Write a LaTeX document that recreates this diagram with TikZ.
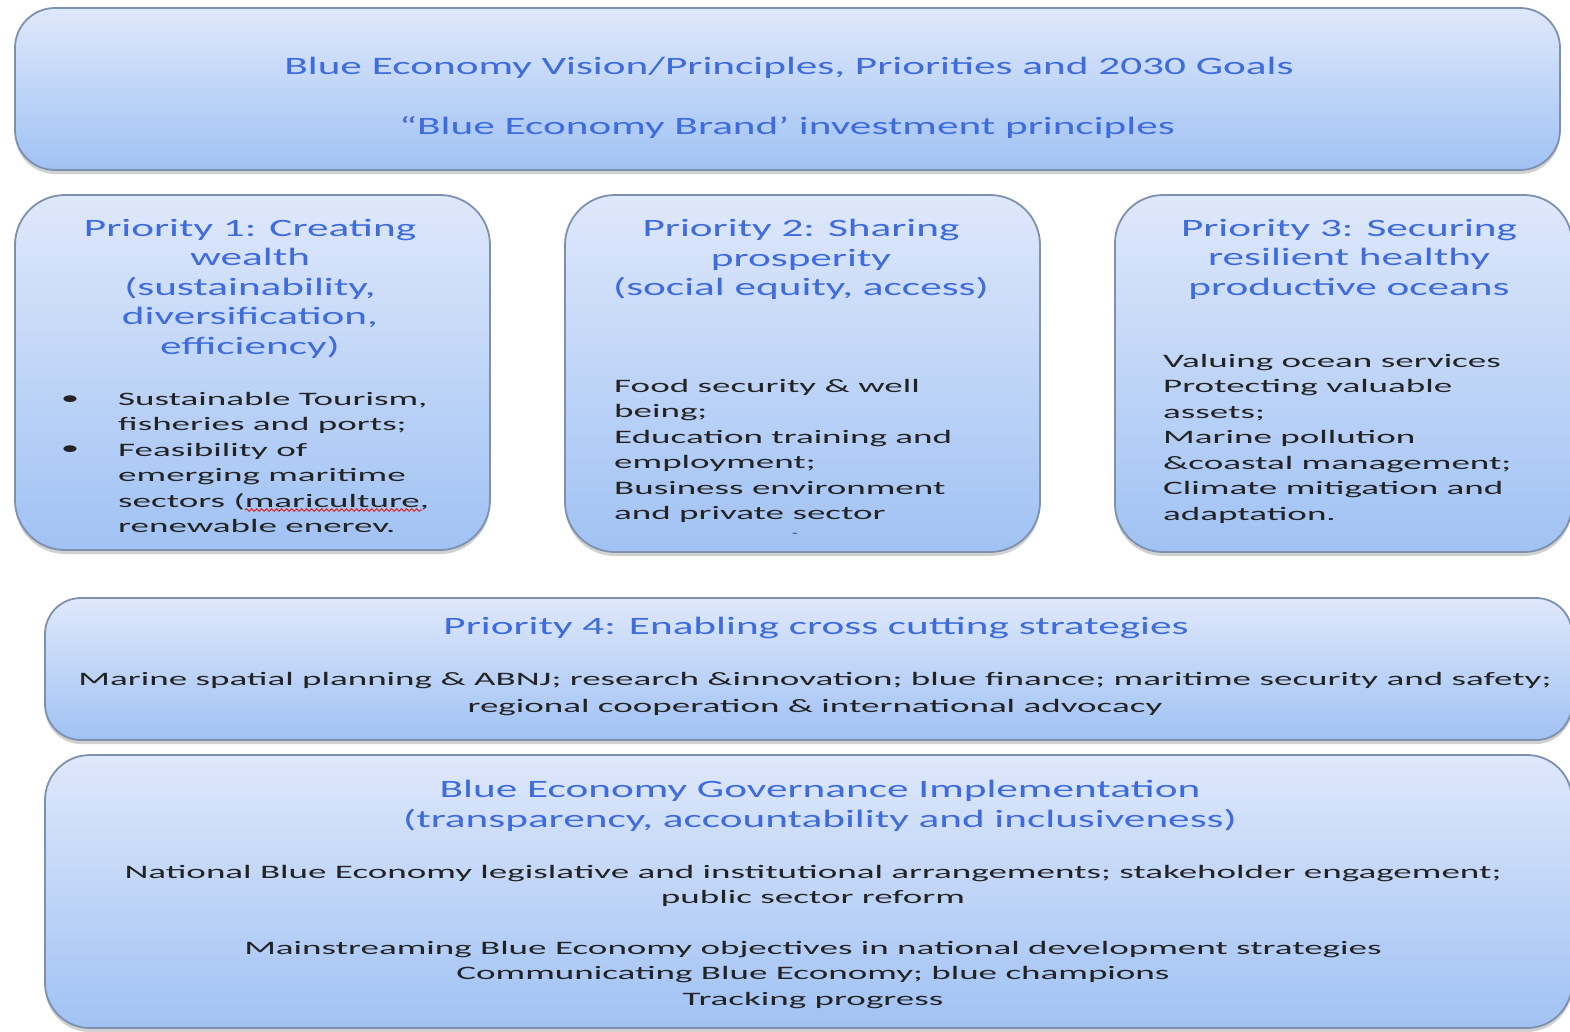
\documentclass[tikz,border=0pt]{standalone}
\usepackage{fontspec}
\usetikzlibrary{shadows,decorations.pathmorphing}
\newfontfamily\hfont[FakeStretch=1.73]{Carlito}
\newfontfamily\bfont[FakeStretch=1.95]{Carlito}
\definecolor{boxtop}{RGB}{223,232,251}
\definecolor{boxbot}{RGB}{160,194,244}
\definecolor{boxline}{RGB}{125,145,175}
\definecolor{headblue}{RGB}{62,108,222}
\definecolor{bodyblack}{RGB}{35,35,35}
\definecolor{wavyred}{RGB}{215,40,40}
\tikzset{
  box/.style={draw=boxline, line width=1.8pt, rounded corners=#1, top color=boxtop, bottom color=boxbot,
    drop shadow={shadow xshift=0pt, shadow yshift=-4pt, fill=black!40, opacity=0.45}, inner sep=0pt},
  head/.style={font=\hfont\fontsize{25}{29.5}\selectfont, text=headblue, align=center, inner sep=0pt},
  body/.style={font=\bfont\fontsize{19}{25.5}\selectfont, text=bodyblack, align=left, inner sep=0pt},
  bodyc/.style={body, align=center},
}
\begin{document}
\begin{tikzpicture}[x=1pt,y=-1pt]
\useasboundingbox (0,0) rectangle (1570,1031);
\clip (0,0) rectangle (1570,1031);
% boxes
\node[box=40pt, minimum width=1545pt, minimum height=162pt] (topbox) at (787.5,89) {};
\node[box=50pt, minimum width=475pt, minimum height=355pt] (p1box) at (252.5,372.5) {};
\node[box=50pt, minimum width=475pt, minimum height=357pt] (p2box) at (802.5,373.5) {};
\node[box=48pt, minimum width=457pt, minimum height=357pt] (p3box) at (1343.5,373.5) {};
\node[box=36pt, minimum width=1527pt, minimum height=142pt] (p4box) at (808.5,669) {};
\node[box=45pt, minimum width=1527pt, minimum height=273pt] (govbox) at (808.5,891.5) {};
% top texts
\node[head, anchor=base] (t1) at (789,74) {Blue Economy Vision/Principles, Priorities and 2030 Goals};
\node[head, anchor=base] (t2) at (787,134) {“Blue Economy Brand’ investment principles};
% priority 1
\node[head, anchor=north] (p1h) at (250,219) {Priority 1: Creating\\wealth\\(sustainability,\\diversification,\\efficiency)};
\node[body] (b1) at (70,400) {\textbullet};
\node[body] (b2) at (70,450) {\textbullet};
\node[body, anchor=north west] (p1t) at (118,392) {Sustainable Tourism,\\fisheries and ports;\\Feasibility of\\emerging maritime\\sectors (mariculture,\\renewable enerev.};
\coordinate (w1) at (245,510);
\coordinate (w2) at (422,510);
\draw[wavyred, line width=1pt, decorate, decoration={snake, amplitude=1.3pt, segment length=5pt}] (w1) -- (w2);
% priority 2
\node[head, anchor=north] (p2h) at (801,219) {Priority 2: Sharing\\prosperity\\(social equity, access)};
\node[body, anchor=north west] (p2t) at (614,379) {Food security \& well\\being;\\Education training and\\employment;\\Business environment\\and private sector};
\node[body, font=\bfont\fontsize{10}{10}\selectfont] (p2d) at (795,535) {-};
% priority 3
\node[head, anchor=north] (p3h) at (1349,219) {Priority 3: Securing\\resilient healthy\\productive oceans};
\node[body, anchor=north west] (p3t) at (1163,354) {Valuing ocean services\\Protecting valuable\\assets;\\Marine pollution\\\&coastal management;\\Climate mitigation and\\adaptation.};
% priority 4
\node[head, anchor=base] (p4h) at (816,634) {Priority 4: Enabling cross cutting strategies};
\node[bodyc, anchor=north, font=\bfont\fontsize{19}{27}\selectfont] (p4t) at (815,672) {Marine spatial planning \& ABNJ; research \&innovation; blue finance; maritime security and safety;\\regional cooperation \& international advocacy};
% governance
\node[head, anchor=north] (gh) at (820,780) {Blue Economy Governance Implementation\\(transparency, accountability and inclusiveness)};
\node[bodyc, anchor=north] (gt1) at (813,865) {National Blue Economy legislative and institutional arrangements; stakeholder engagement;\\public sector reform};
\node[bodyc, anchor=north] (gt2) at (813,941) {Mainstreaming Blue Economy objectives in national development strategies\\Communicating Blue Economy; blue champions\\Tracking progress};
\end{tikzpicture}
\end{document}
